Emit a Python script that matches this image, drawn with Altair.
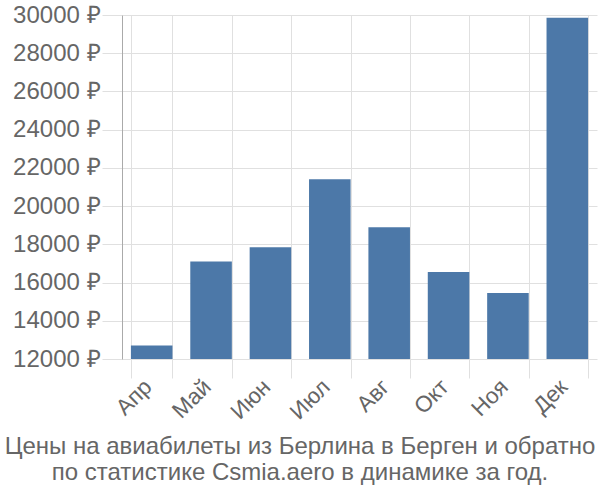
import altair as alt
import pandas as pd

months = ["Апр", "Май", "Июн", "Июл", "Авг", "Окт", "Ноя", "Дек"]
prices = [12700, 17100, 17850, 21400, 18900, 16550, 15450, 29850]
y_ticks = [12000, 14000, 16000, 18000, 20000, 22000, 24000, 26000, 28000, 30000]
title_lines = ["Цены на авиабилеты из Берлина в Берген и обратно",
               "по статистике Csmia.aero в динамике за год."]

df = pd.DataFrame({"month": months, "price": prices})

font = "Liberation Sans"

chart = alt.Chart(df).mark_bar(color="#4c78a8", clip=True).encode(
    x=alt.X("month:N", sort=months, title=None,
            scale=alt.Scale(paddingInner=0.3, paddingOuter=0.15),
            axis=alt.Axis(labelAngle=-45, labelAlign="right", labelBaseline="middle",
                          labelFontSize=22.5, labelFont=font, labelColor="#666666",
                          tickBand="extent", grid=True, gridColor="#e0e0e0",
                          tickColor="#e0e0e0", tickSize=19, domain=False,
                          labelPadding=5, labelOffset=-4)),
    y=alt.Y("price:Q", title=None,
            scale=alt.Scale(domain=[12000, 30000], nice=False, zero=False),
            axis=alt.Axis(values=y_ticks, labelExpr="datum.value + ' ₽'",
                          labelFontSize=24, labelFont=font, labelColor="#666666",
                          gridColor="#e0e0e0", tickColor="#e0e0e0", tickSize=20,
                          domainColor="#aaaaaa", labelPadding=2)),
).properties(
    width=475, height=344,
    title=alt.TitleParams(title_lines, orient="bottom", anchor="middle",
                          fontSize=24, font=font, color="#666666", lineHeight=26,
                          fontWeight="normal", offset=12, dx=-59.5),
    autosize=alt.AutoSizeParams(type="none"),
    padding={"left": 122, "top": 15, "right": 3, "bottom": 141},
).configure_view(stroke=None)

chart.save("out.html", embed_options={"renderer": "svg", "actions": False})
